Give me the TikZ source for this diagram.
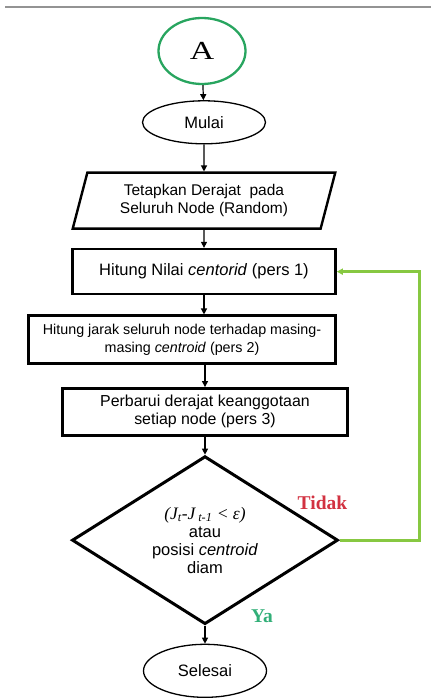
\documentclass[tikz,border=0pt]{standalone}
\usepackage{fontspec}
\setmainfont{Liberation Sans}
\newfontfamily\timesfont{Liberation Serif}
\newfontfamily\hurufA{Liberation Serif}[FakeStretch=1.3]
\usetikzlibrary{positioning, shapes.geometric, arrows.meta}

\definecolor{hijauA}{RGB}{40,165,95}
\definecolor{hijauloop}{RGB}{135,200,65}
\definecolor{merahtidak}{RGB}{210,50,65}
\definecolor{hijauya}{RGB}{50,175,120}

\begin{document}
\begin{tikzpicture}[
            x=1pt, y=1pt,
            node distance=20pt,
            >={Triangle[length=6pt,width=6pt]},
            every node/.style={align=center, inner sep=0pt, font=\fontsize{16.5}{18}\selectfont},
            elips/.style={draw, ellipse, line width=1.3pt, minimum width=123pt, minimum height=43pt},
            kotak/.style={draw, rectangle, line width=2.6pt, minimum height=45pt},
            jajar/.style={draw, trapezium, trapezium left angle=72, trapezium right angle=108,
                trapezium stretches=true, line width=2.4pt, minimum width=263pt, minimum height=56pt},
            keputusan/.style={draw, diamond, aspect=1.6, line width=3pt, minimum width=266pt, minimum height=168pt},
            jawaban/.style={font=\timesfont\bfseries\fontsize{19.5}{20}\selectfont},
            panah/.style={->, line width=1.2pt}
        ]
            \useasboundingbox (0,0) rectangle (431,-698);
            \draw[gray!85, line width=1.2pt] (5,-7) -- (431,-7);

            % Langkah-langkah
            \node (A) [draw=hijauA, ellipse, line width=2.3pt, minimum width=87pt, minimum height=66pt,
                font=\hurufA\fontsize{26}{28}\selectfont] at (202,-51) {A};
            \node (mulai) [elips, below=15pt of A, xshift=2pt] {Mulai};
            \node (tetapkan) [jajar, below=27pt of mulai, font=\fontsize{15.5}{18}\selectfont]
                {Tetapkan Derajat \ pada\\Seluruh Node (Random)};
            \node (hitung) [kotak, minimum width=263pt, below=18pt of tetapkan] {Hitung Nilai \textit{centorid} (pers 1)};
            \node (jarak) [kotak, minimum width=307pt, minimum height=48pt, below=19pt of hitung, xshift=-22pt,
                font=\fontsize{14.3}{18}\selectfont]
                {Hitung jarak seluruh node terhadap masing-\\masing \textit{centroid} (pers 2)};
            \node (perbarui) [kotak, minimum width=285pt, minimum height=47pt, below=22pt of jarak, xshift=23pt,
                font=\fontsize{15.9}{18}\selectfont]
                {Perbarui derajat keanggotaan\\setiap node (pers 3)};
            \node (cek) [keputusan, below=18pt of perbarui]
                {\rule{0pt}{10pt}{\timesfont\itshape\fontsize{17.5}{18}\selectfont (J\textsubscript{t}-J\,\textsubscript{t-1} < ε)}\\atau\\posisi \textit{centroid}\\diam};
            \node (selesai) [elips, minimum height=53pt, below=18pt of cek] {Selesai};

            % Keterangan cabang
            \node (tidak) [jawaban, text=merahtidak] at ([xshift=-17pt, yshift=37pt]cek.east) {Tidak};
            \node (ya) [jawaban, text=hijauya] at ([xshift=57pt, yshift=9pt]cek.south) {Ya};

            % Panah
            \draw[panah] (A) -- (mulai);
            \draw[panah] (mulai) -- (tetapkan);
            \draw[panah] (tetapkan) -- (hitung);
            \draw[panah] (hitung.south) -- (hitung.south |- jarak.north);
            \draw[panah] (perbarui.north |- jarak.south) -- (perbarui.north);
            \draw[panah] (perbarui) -- (cek);
            \draw[panah] (cek) -- (selesai);
            \draw[->, hijauloop, line width=3pt] (cek.east) -- ++(80,0) |- (hitung.east);
        \end{tikzpicture}
\end{document}
